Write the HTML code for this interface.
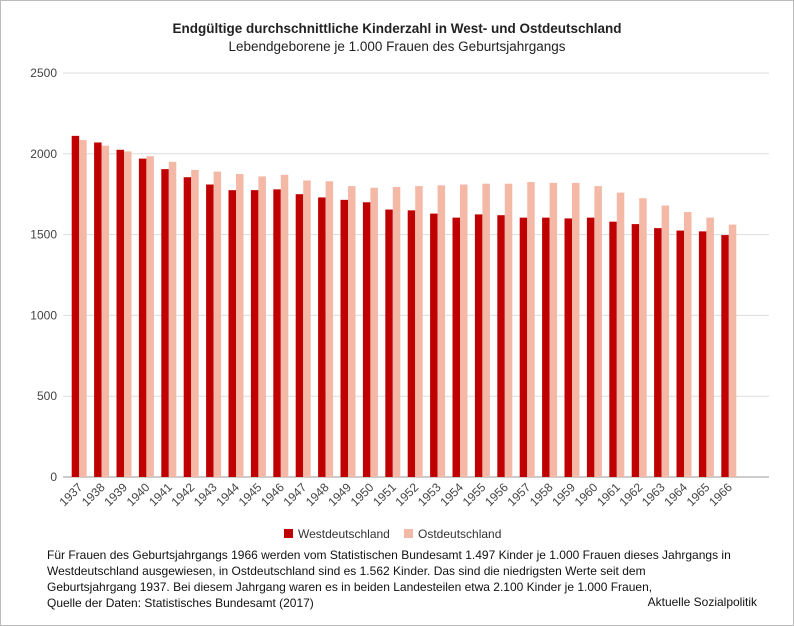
<!DOCTYPE html>
<html><head><meta charset="utf-8"><style>
body{margin:0;background:#fff;}
#wrap{position:relative;width:792px;height:624px;border:1px solid #bbb;font-family:"Liberation Sans",sans-serif;overflow:hidden;}
.t{position:absolute;left:0;width:792px;text-align:center;color:#222;}
#foot{position:absolute;left:46px;top:546px;font-size:12px;line-height:16px;color:#111;white-space:nowrap;}
#src{position:absolute;right:36px;top:594px;font-size:12px;color:#111;}
</style></head><body>
<div id="wrap">
<div class="t" style="top:20px;font-size:13.5px;font-weight:bold">Endgültige durchschnittliche Kinderzahl in West- und Ostdeutschland</div>
<div class="t" style="top:38px;font-size:13.5px">Lebendgeborene je 1.000 Frauen des Geburtsjahrgangs</div>
<svg id="chart" width="792" height="545" style="position:absolute;left:0;top:0"></svg>
<div id="foot">Für Frauen des Geburtsjahrgangs 1966 werden vom Statistischen Bundesamt 1.497 Kinder je 1.000 Frauen dieses Jahrgangs in<br>Westdeutschland ausgewiesen, in Ostdeutschland sind es 1.562 Kinder. Das sind die niedrigsten Werte seit dem<br>Geburtsjahrgang 1937. Bei diesem Jahrgang waren es in beiden Landesteilen etwa 2.100 Kinder je 1.000 Frauen,<br>Quelle der Daten: Statistisches Bundesamt (2017)</div>
<div id="src">Aktuelle Sozialpolitik</div>
</div>
<script>
const years=[1937,1938,1939,1940,1941,1942,1943,1944,1945,1946,1947,1948,1949,1950,1951,1952,1953,1954,1955,1956,1957,1958,1959,1960,1961,1962,1963,1964,1965,1966];
const west=[2111,2070,2025,1970,1905,1855,1810,1775,1775,1780,1750,1730,1715,1700,1655,1650,1630,1605,1625,1620,1605,1605,1600,1605,1580,1565,1540,1525,1520,1497];
const east=[2085,2050,2015,1985,1950,1900,1890,1875,1860,1870,1835,1830,1800,1790,1795,1800,1805,1810,1815,1815,1825,1820,1820,1800,1760,1725,1680,1640,1605,1562];
const yTicks=[0,500,1000,1500,2000,2500];
const seriesNames=["Westdeutschland","Ostdeutschland"];
const colors=["#c00000","#f4b8a6"];
const svg=document.getElementById('chart');const NS='http://www.w3.org/2000/svg';
const X0=67,X1=739,Y0=476,Y1=72,YMAX=2500;
const step=(X1-X0)/years.length;
const y=v=>Y0-(v/YMAX)*(Y0-Y1);
const xb=i=>X0+i*step;
function mk(t,a){const e=document.createElementNS(NS,t);for(const k in a)e.setAttribute(k,a[k]);svg.appendChild(e);return e;}
yTicks.forEach(v=>{
 const l=mk('line',{x1:62,x2:768,y1:y(v),y2:y(v),stroke:v===0?'#999':'#ddd','stroke-width':1});
 
 
 const t=mk('text',{x:56,y:y(v)+4,'text-anchor':'end','font-size':12,fill:'#444','font-family':'Liberation Sans'});
 t.textContent=v;
 
 
});
const bw=7.5;
years.forEach((yr,i)=>{
 const cx=xb(i)+step/2;
 const r1=mk('rect',{x:cx-bw,y:y(west[i]),width:bw,height:Y0-y(west[i]),fill:colors[0]});
 
 
 const r2=mk('rect',{x:cx,y:y(east[i]),width:bw,height:Y0-y(east[i]),fill:colors[1]});
 
 
 const t=mk('text',{x:cx+4,y:487,'text-anchor':'end','font-size':12,fill:'#444','font-family':'Liberation Sans',transform:`rotate(-45 ${cx+4} 487)`});
 t.textContent=yr;
 
 
});
const lx=[283,403];
seriesNames.forEach((n,i)=>{
 const r=mk('rect',{x:lx[i],y:528,width:9,height:9,fill:colors[i]});
 
 
 const t=mk('text',{x:lx[i]+14,y:537,'font-size':12,fill:'#333','font-family':'Liberation Sans'});
 t.textContent=n;
 
 
});
</script>
</body></html>
